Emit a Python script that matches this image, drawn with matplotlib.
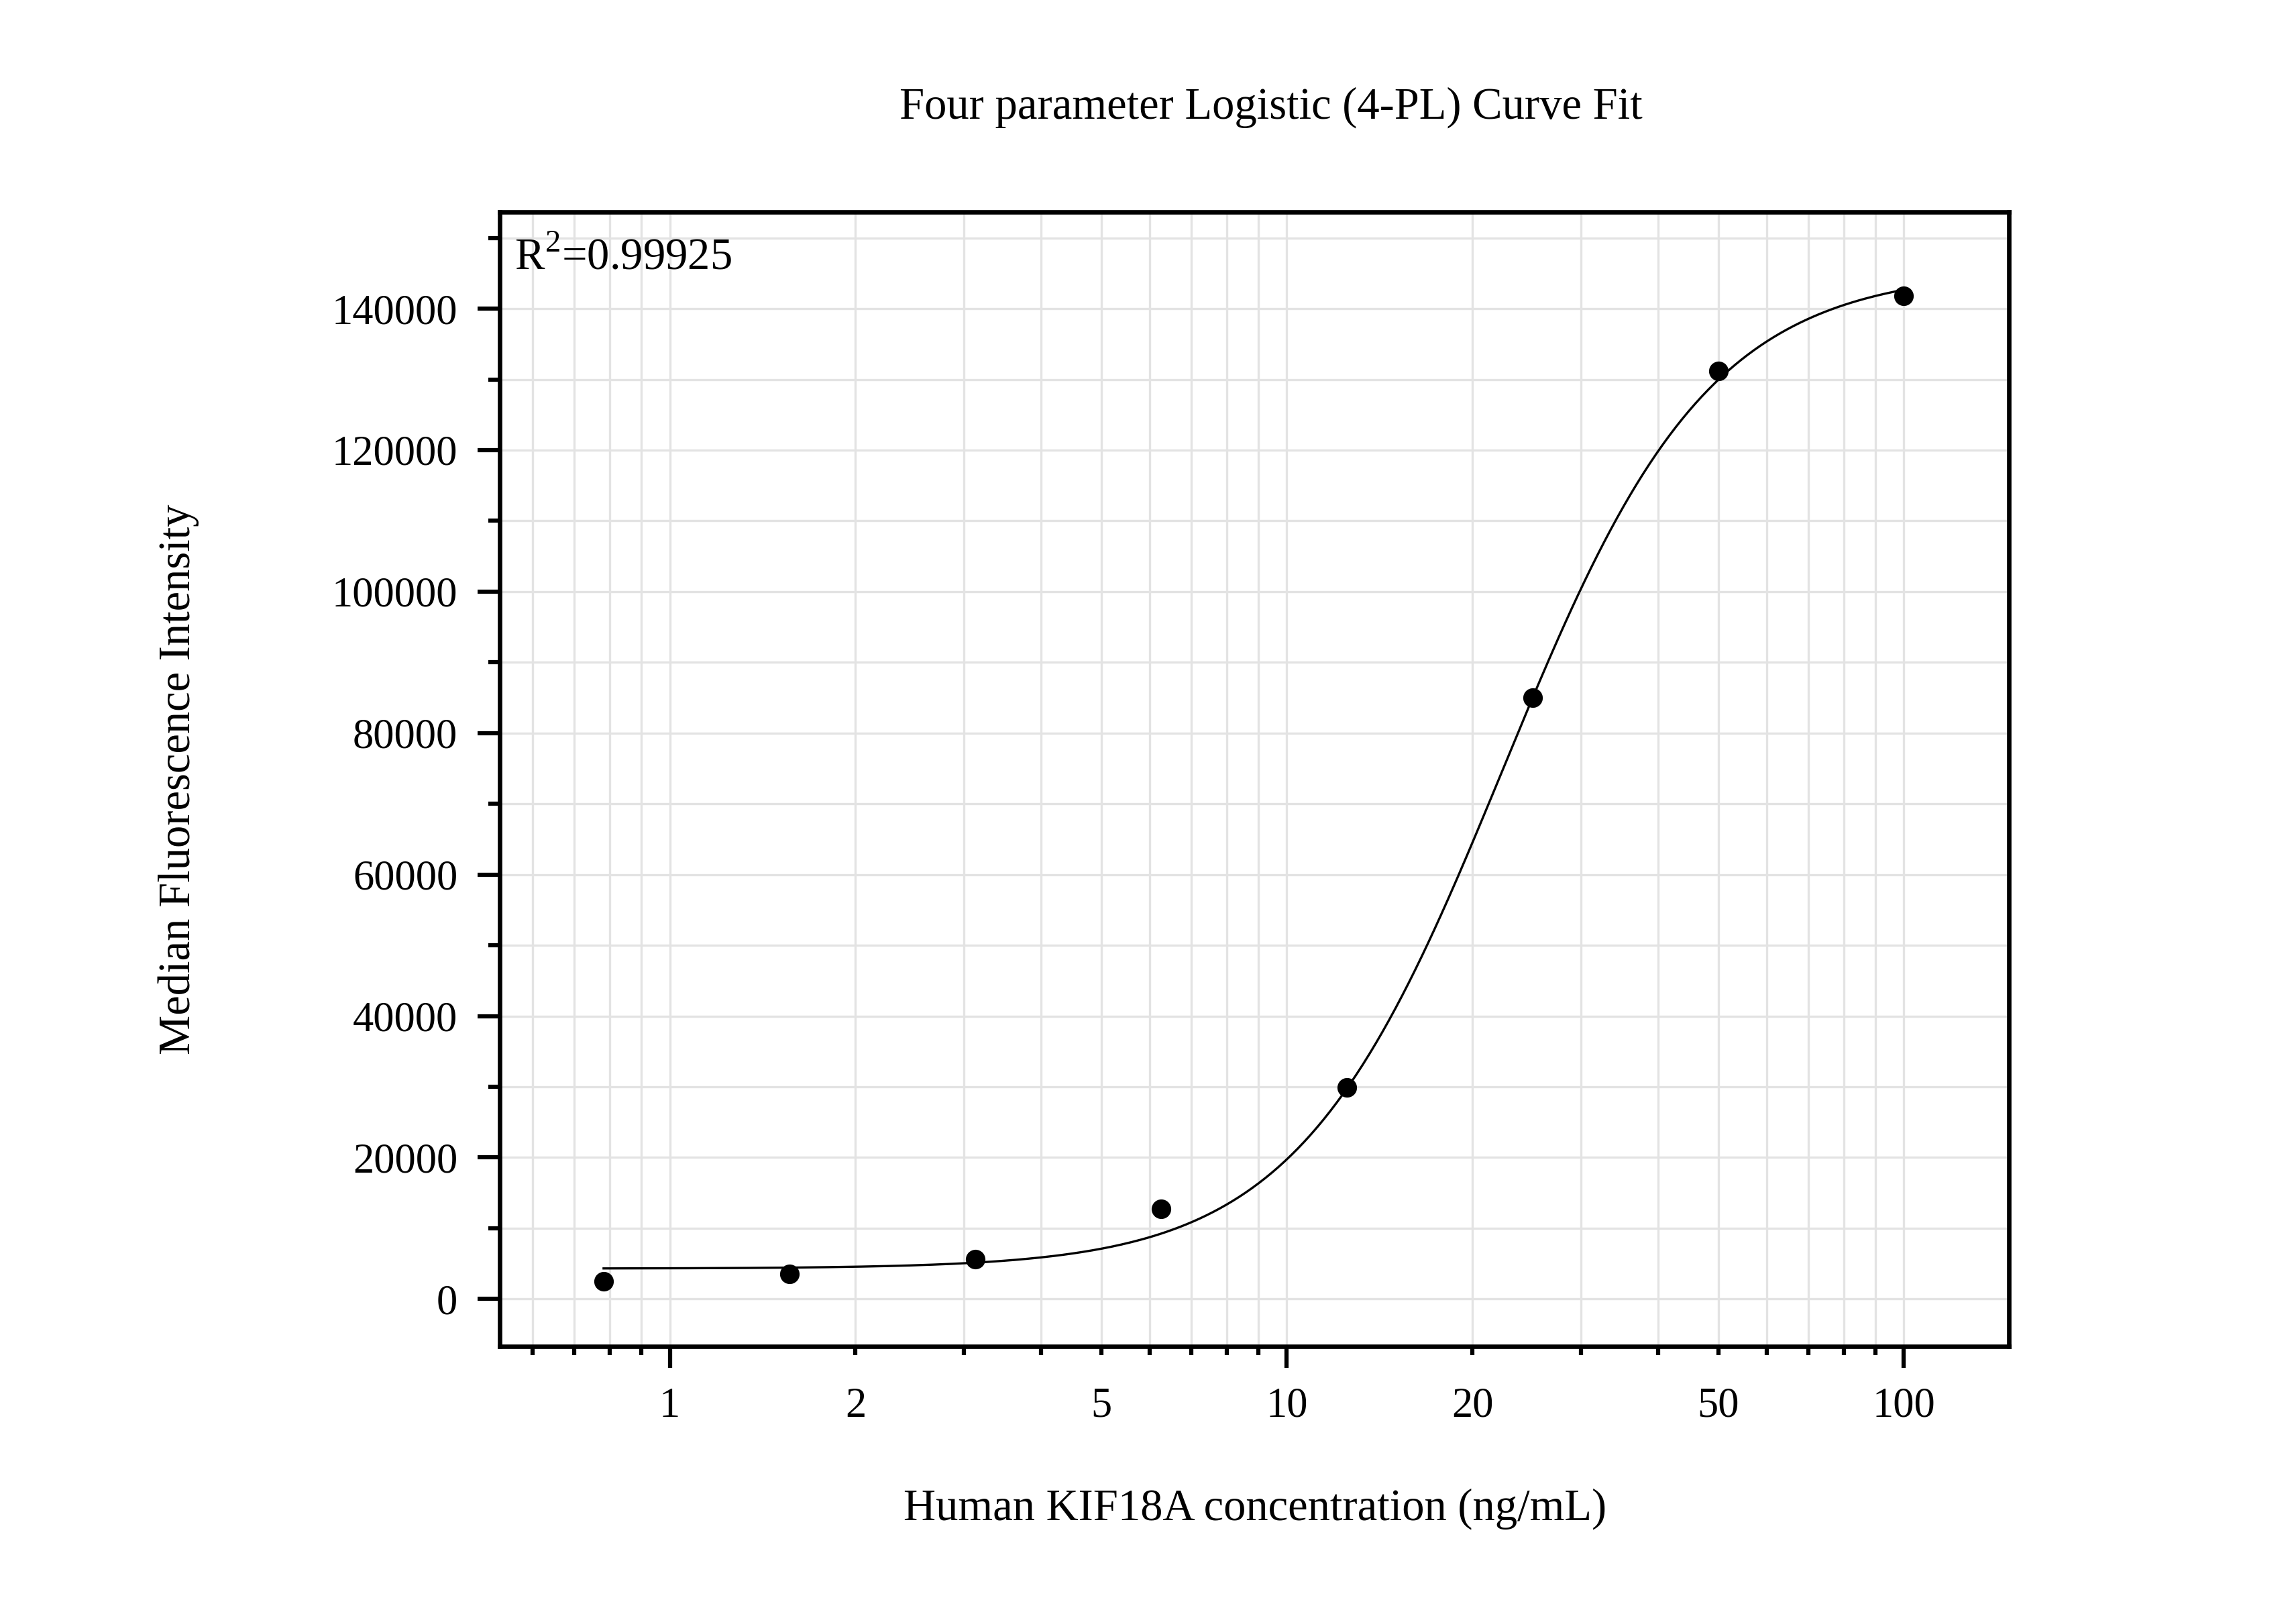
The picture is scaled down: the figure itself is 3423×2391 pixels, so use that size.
import numpy as np
import matplotlib
matplotlib.use('Agg')
import matplotlib.pyplot as plt
from matplotlib.ticker import FixedLocator, LogLocator, MultipleLocator, NullFormatter

plt.rcParams['font.family'] = ['Liberation Serif', 'DejaVu Serif']
plt.rcParams['mathtext.fontset'] = 'custom'
plt.rcParams['mathtext.rm'] = 'Liberation Serif'

# 標準濃度 (ng/mL) と測定値 (MFI)
concentration = [0.78125, 1.5625, 3.125, 6.25, 12.5, 25, 50, 100]
mfi = [2500, 3500, 5600, 12700, 29900, 85000, 131200, 141800]

# 4-PL フィットのパラメータ
bottom = 4300
top = 145500
ec50 = 22.4
hill = 2.6
r_squared = '0.99925'

x_ticks = [1, 2, 5, 10, 20, 50, 100]
x_tick_labels = ['1', '2', '5', '10', '20', '50', '100']
y_ticks = [0, 20000, 40000, 60000, 80000, 100000, 120000, 140000]


def four_pl(x):
    return top + (bottom - top) / (1 + (x / ec50) ** hill)


fig = plt.figure(figsize=(11.41, 7.97), dpi=300)
ax = fig.add_axes([0.2176, 0.1606, 0.6574, 0.7074])

xs = np.logspace(np.log10(concentration[0]), np.log10(concentration[-1]), 400)
ax.plot(xs, four_pl(xs), color='black', linewidth=0.8, zorder=3)
ax.plot(concentration, mfi, 'o', color='black', markersize=6, zorder=4)

ax.set_xscale('log')
ax.set_xlim(0.53, 148)
ax.set_ylim(-6700, 153700)

ax.xaxis.set_major_locator(FixedLocator([1, 10, 100]))
ax.xaxis.set_minor_locator(LogLocator(base=10, subs=np.arange(2, 10)))
ax.xaxis.set_major_formatter(NullFormatter())
ax.xaxis.set_minor_formatter(NullFormatter())
for xt, lab in zip(x_ticks, x_tick_labels):
    ax.text(xt, -0.053, lab, transform=ax.get_xaxis_transform(),
            ha='center', va='center', fontsize=15)

ax.yaxis.set_major_locator(FixedLocator(y_ticks))
ax.yaxis.set_minor_locator(MultipleLocator(10000))
ax.set_yticklabels([str(v) for v in y_ticks], fontsize=15)

ax.tick_params(axis='both', which='major', direction='out', width=1.5, color='black')
ax.tick_params(axis='x', which='major', length=7.6)
ax.tick_params(axis='y', which='major', length=8, pad=7)
ax.tick_params(axis='x', which='minor', direction='out', width=1.5, length=3.2)
ax.tick_params(axis='y', which='minor', direction='out', width=1.5, length=4)

ax.grid(True, which='both', color='#e3e3e3', linewidth=0.8, zorder=0)
ax.set_axisbelow(True)
for sp in ax.spines.values():
    sp.set_linewidth(1.6)

ax.text(0.010, 0.977, r'R$^{2}$=' + r_squared, transform=ax.transAxes,
        ha='left', va='top', fontsize=16)

fig.text(0.5536, 0.933, 'Four parameter Logistic (4-PL) Curve Fit',
         ha='center', va='center', fontsize=16)
fig.text(0.5466, 0.0594, 'Human KIF18A concentration (ng/mL)',
         ha='center', va='center', fontsize=16)
fig.text(0.0778, 0.514, 'Median Fluorescence Intensity',
         ha='center', va='center', rotation=90, fontsize=16)

fig.savefig('out.png', dpi=300)
